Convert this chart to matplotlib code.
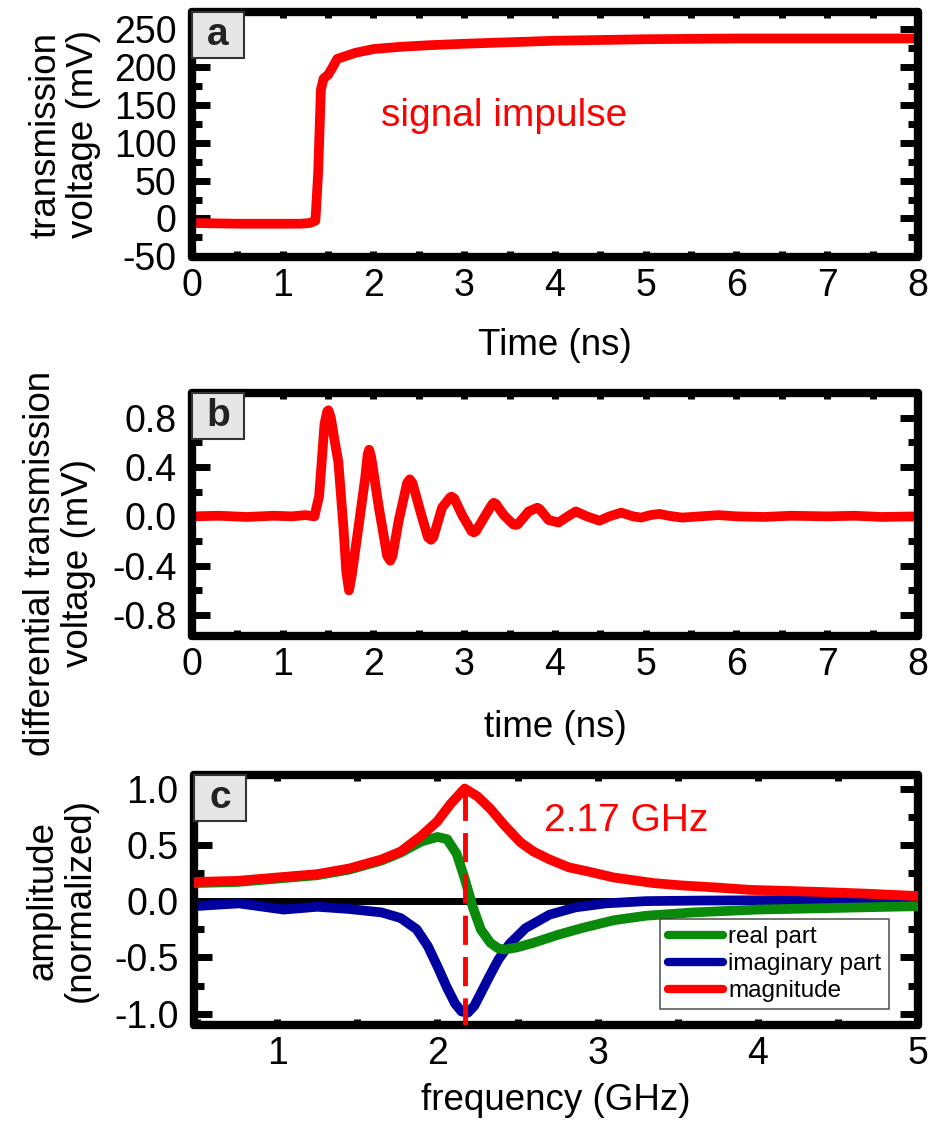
import matplotlib
matplotlib.use("Agg")
import matplotlib.pyplot as plt
from matplotlib.patches import Rectangle

plt.rcParams['font.family'] = ['Liberation Sans', 'DejaVu Sans']
plt.rcParams['axes.unicode_minus'] = False

# -----------------------------
# Panel a: transmission step
# -----------------------------
time_a = [0.0, 0.5, 1.0, 1.2, 1.3, 1.36, 1.39, 1.42, 1.45, 1.5, 1.55, 1.6,
          1.7, 1.8, 2.0, 2.3, 2.6, 3.0, 3.5, 4.0, 5.0, 6.0, 7.0, 8.0]
volt_a = [-6, -7, -7, -7, -6, -3, 60, 170, 185, 190, 200, 211,
          215, 219, 224, 227, 229, 231, 233, 235, 237, 238, 238, 238]

# -----------------------------
# Panel b: differential transmission
# -----------------------------
time_b = [0.0, 0.3, 0.6, 0.9, 1.1, 1.25, 1.35, 1.38, 1.40, 1.43, 1.46, 1.49, 1.503,
          1.53, 1.57, 1.613, 1.669, 1.70, 1.73, 1.76, 1.834, 1.908, 1.935, 1.952,
          1.975, 2.055, 2.15, 2.185, 2.21, 2.276, 2.37, 2.40, 2.43, 2.516, 2.60,
          2.633, 2.66, 2.755, 2.84, 2.86, 2.89, 2.977, 3.08, 3.105, 3.13, 3.234,
          3.31, 3.326, 3.35, 3.436, 3.54, 3.565, 3.59, 3.71, 3.79, 3.805, 3.83,
          3.93, 4.04, 4.12, 4.23, 4.35, 4.49, 4.60, 4.73, 4.86,
          4.95, 5.05, 5.15, 5.25, 5.4, 5.6, 5.8, 6.0, 6.3, 6.6, 7.0, 7.3, 7.6, 8.0]
volt_b = [0.0, 0.005, -0.005, 0.005, 0.0, 0.01, 0.0, 0.10, 0.16, 0.45, 0.75, 0.85, 0.86,
          0.80, 0.62, 0.44, -0.09, -0.45, -0.60, -0.48, -0.09, 0.31, 0.50, 0.54,
          0.48, 0.09, -0.32, -0.36, -0.32, -0.04, 0.27, 0.30, 0.27, 0.04, -0.17,
          -0.19, -0.17, 0.07, 0.15, 0.16, 0.145, 0.01, -0.12, -0.13, -0.12, 0.01,
          0.10, 0.11, 0.10, 0.01, -0.065, -0.07, -0.065, 0.04, 0.065, 0.07, 0.06,
          -0.03, -0.05, -0.01, 0.04, 0.0, -0.035, 0.0, 0.03, 0.0,
          -0.01, 0.01, 0.02, 0.005, -0.01, 0.0, 0.01, 0.0, -0.005, 0.005, 0.0, 0.005, -0.005, 0.0]

# -----------------------------
# Panel c: spectrum
# -----------------------------
mag_f = [0.48, 0.75, 1.0, 1.25, 1.45, 1.65, 1.77, 1.9, 2.0, 2.08, 2.17, 2.25, 2.33,
         2.42, 2.52, 2.6, 2.7, 2.82, 2.95, 3.1, 3.2, 3.35, 3.52, 3.75, 3.95, 4.2,
         4.42, 4.7, 5.0]
mag = [0.17, 0.18, 0.21, 0.24, 0.29, 0.37, 0.44, 0.58, 0.71, 0.86, 1.0, 0.93, 0.82,
       0.67, 0.52, 0.44, 0.37, 0.30, 0.26, 0.21, 0.19, 0.16, 0.14, 0.12, 0.10, 0.09,
       0.08, 0.065, 0.045]

real_f = [0.48, 0.75, 1.0, 1.25, 1.45, 1.65, 1.77, 1.9, 2.0, 2.06, 2.12, 2.17, 2.22,
          2.27, 2.33, 2.38, 2.42, 2.5, 2.6, 2.75, 2.9, 3.1, 3.3, 3.6, 4.0, 4.5, 5.0]
real = [0.16, 0.17, 0.20, 0.23, 0.28, 0.36, 0.43, 0.53, 0.57, 0.55, 0.42, 0.20, -0.05,
        -0.25, -0.37, -0.42, -0.43, -0.41, -0.37, -0.30, -0.24, -0.17, -0.13, -0.10,
        -0.075, -0.06, -0.045]

imag_f = [0.48, 0.76, 1.04, 1.25, 1.45, 1.65, 1.77, 1.87, 1.94, 2.0, 2.06, 2.11, 2.15,
          2.19, 2.23, 2.27, 2.32, 2.38, 2.45, 2.55, 2.7, 2.86, 3.05, 3.3, 3.64, 4.27, 5.0]
imag = [-0.045, -0.02, -0.075, -0.05, -0.07, -0.10, -0.15, -0.25, -0.40, -0.58, -0.77,
        -0.91, -0.98, -0.99, -0.93, -0.82, -0.68, -0.52, -0.38, -0.24, -0.12, -0.056,
        -0.02, 0.0, 0.005, 0.01, 0.0]

peak_freq = 2.17
peak_label = "2.17 GHz"

RED = '#ff0000'
GREEN = '#0a8a0a'
BLUE = '#0000a0'
LW = 7

FIG_W, FIG_H = 929, 1131
fig = plt.figure(figsize=(FIG_W / 100, FIG_H / 100), dpi=100)


def px_axes(left, top, right, bottom):
    return fig.add_axes([left / FIG_W, 1 - bottom / FIG_H,
                         (right - left) / FIG_W, (bottom - top) / FIG_H])


def style(ax, ymaj, ymin, xmin=0.5):
    for s in ax.spines.values():
        s.set_linewidth(6)
        s.set_capstyle('round')
    ax.xaxis.set_major_locator(plt.MultipleLocator(1))
    ax.xaxis.set_minor_locator(plt.MultipleLocator(xmin))
    ax.yaxis.set_major_locator(plt.MultipleLocator(ymaj))
    ax.yaxis.set_minor_locator(plt.MultipleLocator(ymin))
    ax.tick_params(which='both', direction='in', top=True, right=True,
                   width=5, labelsize=27)
    ax.tick_params(axis='y', which='major', length=13, pad=11)
    ax.tick_params(axis='y', which='minor', length=7)
    ax.tick_params(axis='x', which='both', length=4, pad=8)


def tag(ax, letter, w_px=52, h_px=46):
    bb = ax.get_position()
    w = w_px / (bb.width * FIG_W)
    h = h_px / (bb.height * FIG_H)
    ax.add_patch(Rectangle((0, 1 - h), w, h, transform=ax.transAxes,
                           fc='#e6e6e6', ec='#333333', lw=1.5, zorder=6,
                           clip_on=False))
    ax.text(w / 2, 1 - h / 2, letter, transform=ax.transAxes, ha='center',
            va='center', fontsize=28, fontweight='bold', color='#222222',
            zorder=7)


# ---- panel a
ax1 = px_axes(192, 12, 918, 257)
ax1.plot(time_a, volt_a, color=RED, lw=LW, solid_capstyle='round')
ax1.set_xlim(0, 8)
ax1.set_ylim(-51, 273)
style(ax1, 50, 25)
ax1.text(3.44, 135, "signal impulse", color=RED, fontsize=28, ha='center', va='center')
ax1.set_xlabel("Time (ns)", fontsize=26.5)
ax1.set_ylabel("transmission\nvoltage (mV)", fontsize=26.5, linespacing=1.1)
ax1.xaxis.set_label_coords(0.5, -0.29)
ax1.yaxis.set_label_coords(-0.125, 0.5)
ax1.xaxis.label.set_va('top')
tag(ax1, 'a')

# ---- panel b
ax2 = px_axes(192, 393, 918, 636)
ax2.plot(time_b, volt_b, color=RED, lw=LW, solid_capstyle='round', solid_joinstyle='round')
ax2.set_xlim(0, 8)
ax2.set_ylim(-0.97, 1.0)
style(ax2, 0.4, 0.2)
ax2.yaxis.set_major_formatter(plt.FormatStrFormatter('%.1f'))
ax2.set_xlabel("time (ns)", fontsize=26.5)
ax2.set_ylabel("differential transmission\nvoltage (mV)", fontsize=26.5, linespacing=1.1)
ax2.xaxis.set_label_coords(0.5, -0.305)
ax2.yaxis.set_label_coords(-0.132, 0.3)
ax2.xaxis.label.set_va('top')
tag(ax2, 'b')

# ---- panel c
ax3 = px_axes(194, 775, 918, 1025)
ax3.axhline(0, color='black', lw=5, zorder=1)
ax3.plot(imag_f, imag, color=BLUE, lw=LW, solid_capstyle='round', label='imaginary part', zorder=2)
ax3.plot(real_f, real, color=GREEN, lw=LW, solid_capstyle='round', label='real part', zorder=3)
ax3.plot(mag_f, mag, color=RED, lw=LW, solid_capstyle='round', label='magnitude', zorder=4)
ax3.vlines(peak_freq, -1.12, 1.06, color=RED, lw=3.5, linestyles=(0, (6, 2.5)), zorder=5)
ax3.set_xlim(0.48, 5.0)
ax3.set_ylim(-1.10, 1.12)
style(ax3, 0.5, 0.25)
ax3.yaxis.set_major_formatter(plt.FormatStrFormatter('%.1f'))
ax3.text(3.18, 0.71, peak_label, color=RED, fontsize=28, ha='center', va='center')
ax3.set_xlabel("frequency (GHz)", fontsize=26.5)
ax3.set_ylabel("amplitude\n(normalized)", fontsize=26.5, linespacing=1.1)
ax3.xaxis.set_label_coords(0.5, -0.232)
ax3.yaxis.set_label_coords(-0.133, 0.5)
ax3.xaxis.label.set_va('top')
handles, labels = ax3.get_legend_handles_labels()
order = [1, 0, 2]
leg = ax3.legend([handles[i] for i in order], [labels[i] for i in order],
                 loc='upper left', bbox_to_anchor=(0.644, 0.424), fontsize=17.5,
                 frameon=True, fancybox=False, edgecolor='#333333',
                 handlelength=2.3, handletextpad=0.2, labelspacing=0.2,
                 borderpad=0.3, borderaxespad=0)
leg.get_frame().set_linewidth(1.2)
for ln in leg.get_lines():
    ln.set_linewidth(6)
tag(ax3, 'c')

fig.savefig("out.png", dpi=100)
